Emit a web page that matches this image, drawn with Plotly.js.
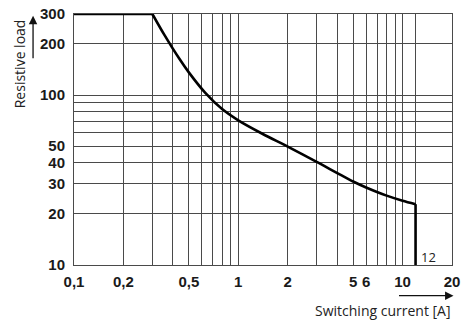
<!DOCTYPE html>
<html>
<head>
<meta charset="utf-8">
<script src="https://cdn.plot.ly/plotly-3.0.1.min.js"></script>
<style>html,body{margin:0;padding:0;background:#fff;}#chart{width:474px;height:333px;}</style>
</head>
<body>
<div id="chart"></div>
<script>
// Limit curve: switching current [A] vs resistive load
const flatCurrent = [0.1, 0.3];
const flatLoad = [300, 300];
const curveCurrent = [0.3, 0.355, 0.437, 0.5, 0.63, 0.794, 1, 1.41, 2, 3, 5, 6, 8, 10, 12];
const curveLoad = [300, 226, 164, 136, 103, 83, 71, 59, 49.7, 40.4, 31, 28.6, 25.6, 23.9, 22.8];
const dropCurrent = [12, 12];
const dropLoad = [22.8, 10];
const maxCurrentLabel = "12";

// Axis ticks / grid
const xTickVals = [0.1,0.2,0.3,0.4,0.5,0.6,0.7,0.8,0.9,1,2,3,4,5,6,7,8,9,10,12,20];
const xTickText = ["0,1","0,2","","","0,5","","","","","1","2","","","5","6","","","","10","","20"];
const yTickVals = [10,20,30,40,50,60,70,80,90,100,200,300];
const yTickText = ["10","20","30","40","50","","","","","100","200","300"];

const xTitle = "Switching current [A]";
const yTitle = "Resistive load";

const lineStyle = {color: "#000", width: 2.6};
const traces = [
  {x: flatCurrent, y: flatLoad, mode: "lines", line: lineStyle, cliponaxis: false, hoverinfo: "skip", showlegend: false},
  {x: curveCurrent, y: curveLoad, mode: "lines", line: Object.assign({shape: "spline", smoothing: 0.8}, lineStyle), cliponaxis: false, showlegend: false},
  {x: dropCurrent, y: dropLoad, mode: "lines", line: lineStyle, cliponaxis: false, hoverinfo: "skip", showlegend: false}
];

const L = 74, R = 452.5, T = 14.3, B = 265.3;
const W = 474, H = 333;
const px = v => (v - L) / (R - L);
const py = v => (B - v) / (B - T);

const gridColor = "#4a4a4a";
const tickFont = {family: "Liberation Sans, Arial, sans-serif", size: 15, color: "#1a1a1a", weight: "bold"};
const textFont = {family: "Open Sans, Noto Sans, sans-serif", size: 14, color: "#222"};

const layout = {
  width: W, height: H,
  margin: {l: L, r: W - R, t: T, b: H - B, pad: 0},
  paper_bgcolor: "#fff", plot_bgcolor: "#fff",
  showlegend: false,
  xaxis: {
    type: "log", range: [-1, Math.log10(20)],
    tickmode: "array", tickvals: xTickVals, ticktext: xTickText,
    showgrid: true, gridcolor: gridColor, gridwidth: 1,
    showline: true, linecolor: gridColor, linewidth: 1, mirror: true,
    ticks: "", ticklabelstandoff: 3, tickfont: tickFont, zeroline: false, fixedrange: true
  },
  yaxis: {
    type: "log", range: [1, Math.log10(300)],
    tickmode: "array", tickvals: yTickVals, ticktext: yTickText,
    showgrid: true, gridcolor: gridColor, gridwidth: 1,
    showline: true, linecolor: gridColor, linewidth: 1, mirror: true,
    ticks: "", ticklabelstandoff: 5, tickfont: tickFont, zeroline: false, fixedrange: true
  },
  annotations: [
    {xref: "paper", yref: "paper", x: px(454), y: py(311), xanchor: "right", yanchor: "middle",
     text: xTitle, showarrow: false, font: textFont},
    {xref: "paper", yref: "paper", x: px(19.5), y: py(64), xanchor: "center", yanchor: "middle",
     text: yTitle, textangle: -90, showarrow: false, font: textFont},
    {xref: "paper", yref: "paper", x: px(454), y: py(296), text: "", showarrow: true,
     axref: "pixel", ayref: "pixel", ax: -56, ay: 0, arrowhead: 2, arrowsize: 1.3, arrowwidth: 1.3, arrowcolor: "#111"},
    {xref: "paper", yref: "paper", x: px(33), y: py(16), text: "", showarrow: true,
     axref: "pixel", ayref: "pixel", ax: 0, ay: 44, arrowhead: 2, arrowsize: 1.3, arrowwidth: 1.3, arrowcolor: "#111"},
    {xref: "x", yref: "paper", x: Math.log10(dropCurrent[0]), y: py(257), xanchor: "left", yanchor: "middle",
     xshift: 3, text: maxCurrentLabel, showarrow: false,
     font: {family: "Open Sans, Noto Sans, sans-serif", size: 13, color: "#222"}}
  ]
};

Plotly.newPlot("chart", traces, layout, {displayModeBar: false, staticPlot: true});
</script>
</body>
</html>
